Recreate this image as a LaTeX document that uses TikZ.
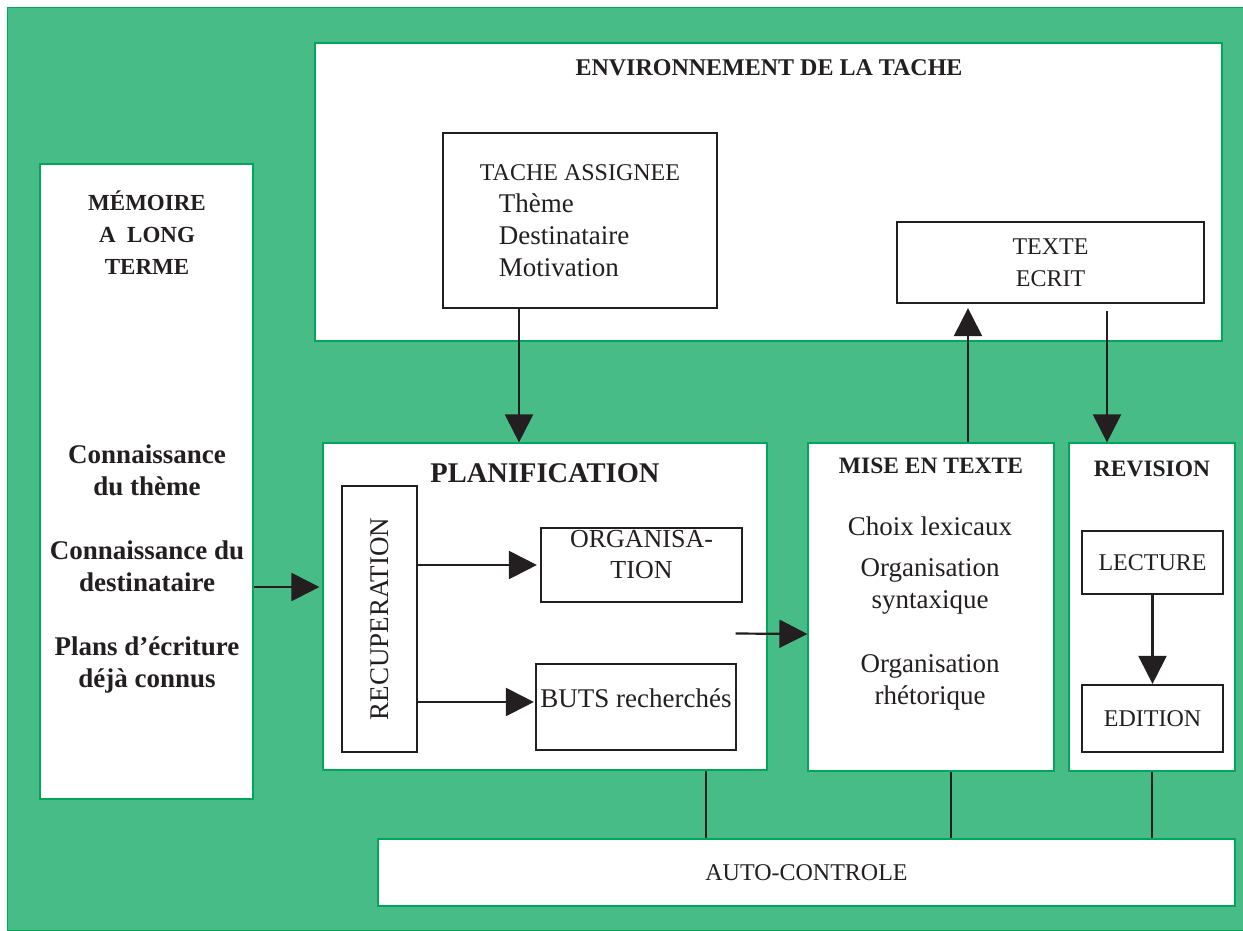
\documentclass[tikz,border=0pt]{standalone}
\usepackage{fontspec}
\setmainfont{Liberation Serif}
\usetikzlibrary{positioning,arrows.meta}
\definecolor{bggreen}{RGB}{72,188,135}
\definecolor{edgegreen}{RGB}{0,166,90}
\definecolor{ink}{RGB}{35,31,32}
\newcommand{\bigtxt}{\fontsize{27}{32}\selectfont}
\tikzset{
  panel/.style={draw=edgegreen, line width=1.2pt, fill=white, inner sep=0pt},
  blk/.style={draw=ink, line width=2.2pt, fill=white, inner sep=0pt, text=ink, align=center, font=\fontsize{24}{32}\selectfont},
  arr/.style={-{Triangle[width=28pt,length=28pt]}, draw=ink, line width=2.2pt},
  lnk/.style={draw=ink, line width=2.2pt},
  txt/.style={text=ink, font=\fontsize{24}{32}\selectfont, align=center, inner sep=0pt},
  hdr/.style={text=ink, font=\bfseries\fontsize{23}{32}\selectfont, align=center, inner sep=0pt},
}
\begin{document}
\begin{tikzpicture}[x=1pt, y=-1pt]
    \useasboundingbox (0,0) rectangle (1243,930);
    \fill[bggreen, draw=edgegreen, line width=1pt] (7,7) rectangle (1243,930);

    % big white panels
    \node[panel, minimum width=907pt, minimum height=298pt] (env) at (768.5,192) {};
    \node[panel, minimum width=213pt, minimum height=635pt] (mem) at (146.5,481.5) {};
    \node[panel, minimum width=444pt, minimum height=327pt] (plan) at (545,606.5) {};
    \node[panel, minimum width=246pt, minimum height=328pt] (mise) at (931,607) {};
    \node[panel, minimum width=166pt, minimum height=328pt] (rev) at (1152,607) {};
    \node[panel, minimum width=857pt, minimum height=67pt, txt] (auto) at (806.5,872.5) {AUTO-CONTROLE};

    % titles
    \node[hdr, font=\bfseries\fontsize{24}{32}\selectfont] (envtitle) at (769,68) {ENVIRONNEMENT DE LA TACHE};
    \node[hdr] (memtitle) at (147,233) {MÉMOIRE\\A\ \ LONG\\TERME};
    \node[hdr, font=\bfseries\fontsize{28.5}{32}\selectfont] (plantitle) at (545,473) {PLANIFICATION};
    \node[hdr, font=\bfseries\fontsize{23.5}{32}\selectfont] (misetitle) at (931,466) {MISE EN TEXTE};
    \node[hdr, font=\bfseries\fontsize{23.5}{32}\selectfont] (revtitle) at (1152,469) {REVISION};

    % contents
    \node[hdr, font=\bfseries\bigtxt] (memtxt) at (147,569) {Connaissance\\du thème\\[32pt]Connaissance du\\destinataire\\[32pt]Plans d’écriture\\déjà connus};
    \node[txt, font=\bigtxt] (misetxt) at (930,613) {Choix lexicaux\\[9pt]Organisation\\syntaxique\\[32pt]Organisation\\rhétorique};

    % black boxes
    \node[blk, minimum width=274pt, minimum height=175pt, align=left] (tache) at (580,220.5)
        {TACHE ASSIGNEE\\\bigtxt\hspace*{19pt}Thème\\\bigtxt\hspace*{19pt}Destinataire\\\bigtxt\hspace*{19pt}Motivation};
    \node[blk, minimum width=307pt, minimum height=81pt] (texte) at (1050.5,262.5) {TEXTE\\ECRIT};
    \node[blk, minimum width=75pt, minimum height=266pt] (recup) at (379.5,619) {};
    \node[txt, rotate=90, font=\fontsize{27}{32}\selectfont] (recuptxt) at (recup.center) {RECUPERATION};
    \node[blk, minimum width=201pt, minimum height=74pt] (org) at (641.5,565) {};
    \node[txt, font=\fontsize{26}{31}\selectfont] (orgtxt) at ([yshift=10pt]org.center) {ORGANISA-\\TION};
    \node[blk, minimum width=200pt, minimum height=86pt] (buts) at (636,707) {};
    \node[txt, font=\bigtxt] (butstxt) at ([yshift=9pt]buts.center) {BUTS recherchés};
    \node[blk, minimum width=141pt, minimum height=63pt] (lect) at (1152.5,562.5) {LECTURE};
    \node[blk, minimum width=141pt, minimum height=67pt] (edit) at (1152.5,718.5) {EDITION};

    % arrows
    \draw[arr] ([xshift=-61pt]tache.south) -- ([xshift=-61pt]tache.south |- plan.north);
    \draw[arr, shorten >=4pt] ([xshift=37pt]mise.north) -- ([xshift=37pt]mise.north |- texte.south);
    \draw[arr, shorten <=7pt] ([xshift=56.5pt]texte.south) -- ([xshift=56.5pt]texte.south |- rev.north);
    \draw[arr] (lect) -- (edit);
    \draw[arr, shorten >=3pt] (recup.east |- org.west) -- (org.west);
    \draw[arr, shorten >=1pt] ([yshift=5pt]recup.east |- buts.west) -- ([yshift=5pt]buts.west);
    \draw[arr] ([xshift=-32pt, yshift=-27pt]plan.east) -- ([yshift=-27pt]mise.west);
    \draw[arr, shorten >=3pt] ([yshift=-105.5pt]mem.east) -- ([yshift=-105.5pt]mem.east -| plan.west);

    % links to auto-controle
    \draw[lnk] ([xshift=161pt]plan.south) -- ([xshift=161pt]plan.south |- auto.north);
    \draw[lnk] ([xshift=20pt]mise.south) -- ([xshift=20pt]mise.south |- auto.north);
    \draw[lnk] (rev.south) -- (rev.south |- auto.north);
\end{tikzpicture}
\end{document}
